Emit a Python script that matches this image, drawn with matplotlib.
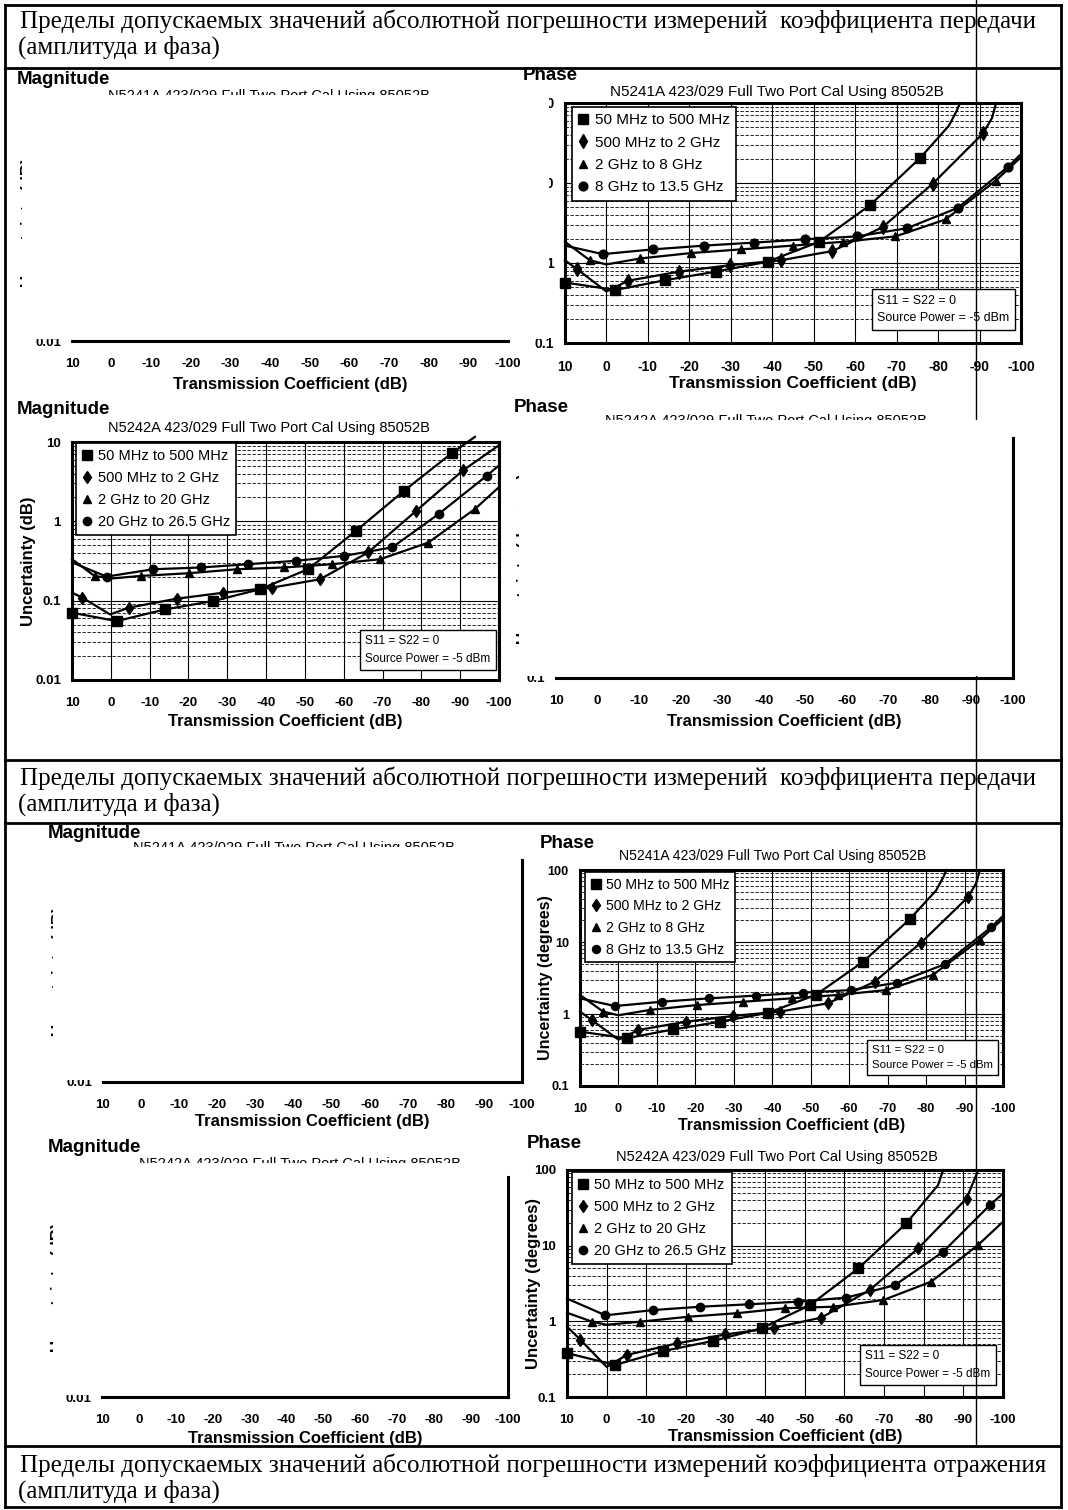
import matplotlib
matplotlib.use("Agg")
import matplotlib.pyplot as plt
import numpy as np
from matplotlib.lines import Line2D
from matplotlib.patches import Rectangle
from matplotlib.ticker import LogLocator, NullFormatter

W, H = 1068, 1510
SANS = ["Liberation Sans", "DejaVu Sans"]
SERIF = ["Liberation Serif", "DejaVu Serif"]
plt.rcParams["font.family"] = SANS

HEADER_TX = "Пределы допускаемых значений абсолютной погрешности измерений  коэффициента передачи"
HEADER_RX = "Пределы допускаемых значений абсолютной погрешности измерений коэффициента отражения"
HEADER_SUB = "(амплитуда и фаза)"

X_TICKS = [10, 0, -10, -20, -30, -40, -50, -60, -70, -80, -90, -100]
X_LABELS = ["10", "0", "-10", "-20", "-30", "-40", "-50", "-60", "-70", "-80", "-90", "-100"]
MAG_TICKS = [0.01, 0.1, 1, 10]
MAG_LABELS = ["0.01", "0.1", "1", "10"]
PH_TICKS = [0.1, 1, 10, 100]
PH_LABELS = ["0.1", "1", "10", "100"]

TITLE_41 = "N5241A 423/029 Full Two Port Cal Using 85052B"
TITLE_42 = "N5242A 423/029 Full Two Port Cal Using 85052B"
LEG_41 = ["50 MHz to 500 MHz", "500 MHz to 2 GHz", "2 GHz to 8 GHz", "8 GHz to 13.5 GHz"]
LEG_42 = ["50 MHz to 500 MHz", "500 MHz to 2 GHz", "2 GHz to 20 GHz", "20 GHz to 26.5 GHz"]
NOTE = "S11 = S22 = 0\nSource Power = -5 dBm"
MARKERS = ["s", "d", "^", "o"]
MARKER_SIZES = [7, 6.5, 6, 6]

# N5241A phase uncertainty (degrees) -- same chart is printed twice on the sheet
PH41_SQ_X = [10, -2.1, -14.2, -26.4, -38.9, -51.3, -63.6, -75.7, -82.6, -84.5, -85.3]
PH41_SQ_Y = [0.57, 0.46, 0.61, 0.78, 1.04, 1.84, 5.3, 20.6, 52, 80, 100]
PH41_SQ_MK = [0, 1, 2, 3, 4, 5, 6, 7]
PH41_DI_X = [10, 7, 0, -5.2, -17.5, -29.8, -42, -54.5, -66.6, -78.7, -90.9, -93, -94]
PH41_DI_Y = [1.08, 0.83, 0.44, 0.6, 0.78, 0.94, 1.08, 1.41, 2.8, 9.8, 42, 65, 100]
PH41_DI_MK = [1, 3, 4, 5, 6, 7, 8, 9, 10]
PH41_TR_X = [10, 4, 0, -8.2, -20.3, -32.4, -45, -57.1, -69.7, -81.8, -93.9, -100]
PH41_TR_Y = [1.84, 1.08, 0.96, 1.14, 1.33, 1.48, 1.65, 1.84, 2.15, 3.5, 10.7, 21]
PH41_TR_MK = [1, 3, 4, 5, 6, 7, 8, 9, 10]
PH41_CI_X = [10, 0.9, -11.2, -23.6, -35.7, -48, -60.4, -72.5, -84.8, -96.9, -100]
PH41_CI_Y = [1.65, 1.29, 1.48, 1.65, 1.8, 1.98, 2.15, 2.72, 4.9, 16, 23]
PH41_CI_MK = [1, 2, 3, 4, 5, 6, 7, 8, 9]

# N5242A phase uncertainty (degrees)
PH42_SQ_X = [10, -2.2, -14.3, -26.8, -39.1, -51.3, -63.5, -75.6, -83.6, -84.9]
PH42_SQ_Y = [0.38, 0.265, 0.405, 0.55, 0.81, 1.64, 5.0, 19.7, 63, 100]
PH42_SQ_MK = [0, 1, 2, 3, 4, 5, 6, 7]
PH42_DI_X = [10, 6.6, 0, -5.1, -17.7, -29.9, -42.1, -54.2, -66.4, -78.6, -90.8, -93.7]
PH42_DI_Y = [0.85, 0.57, 0.25, 0.36, 0.51, 0.67, 0.82, 1.12, 2.6, 9.2, 42, 98]
PH42_DI_MK = [1, 3, 4, 5, 6, 7, 8, 9, 10]
PH42_TR_X = [10, 3.7, 0, -8.5, -20.6, -32.8, -45, -57.2, -69.8, -81.9, -93.7, -100]
PH42_TR_Y = [1.3, 0.99, 0.9, 0.99, 1.15, 1.28, 1.49, 1.56, 1.91, 3.35, 10.2, 20.7]
PH42_TR_MK = [1, 3, 4, 5, 6, 7, 8, 9, 10]
PH42_CI_X = [10, 0.3, -11.8, -23.6, -36, -48.4, -60.5, -72.7, -84.9, -96.6, -100]
PH42_CI_Y = [2.0, 1.2, 1.41, 1.56, 1.68, 1.82, 2.06, 3.0, 8.3, 34, 49]
PH42_CI_MK = [1, 2, 3, 4, 5, 6, 7, 8, 9]

# N5242A magnitude uncertainty (dB)
MAG42_SQ_X = [10, -1.5, -14, -26.4, -38.4, -50.8, -63.2, -75.6, -88, -93.8]
MAG42_SQ_Y = [0.0705, 0.0553, 0.0776, 0.099, 0.139, 0.249, 0.762, 2.44, 7.33, 11.6]
MAG42_SQ_MK = [0, 1, 2, 3, 4, 5, 6, 7, 8]
MAG42_DI_X = [10, 7.3, 0.2, -4.6, -17, -29, -41.5, -53.9, -66.3, -78.7, -90.7, -100]
MAG42_DI_Y = [0.126, 0.109, 0.067, 0.0815, 0.106, 0.126, 0.146, 0.186, 0.406, 1.36, 4.38, 9.1]
MAG42_DI_MK = [1, 3, 4, 5, 6, 7, 8, 9, 10]
MAG42_TR_X = [10, 4.2, 0, -7.7, -20.2, -32.6, -44.6, -57, -69.4, -81.8, -93.8, -100]
MAG42_TR_Y = [0.333, 0.205, 0.19, 0.205, 0.222, 0.249, 0.262, 0.288, 0.333, 0.54, 1.43, 2.7]
MAG42_TR_MK = [1, 3, 4, 5, 6, 7, 8, 9, 10]
MAG42_CI_X = [10, 1.1, -10.9, -23.3, -35.3, -47.7, -60.1, -72.5, -84.5, -96.9, -100]
MAG42_CI_Y = [0.304, 0.201, 0.249, 0.262, 0.288, 0.318, 0.367, 0.47, 1.24, 3.78, 5.07]
MAG42_CI_MK = [1, 2, 3, 4, 5, 6, 7, 8, 9]

SERIES_PH41 = [(PH41_SQ_X, PH41_SQ_Y, PH41_SQ_MK), (PH41_DI_X, PH41_DI_Y, PH41_DI_MK),
               (PH41_TR_X, PH41_TR_Y, PH41_TR_MK), (PH41_CI_X, PH41_CI_Y, PH41_CI_MK)]
SERIES_PH42 = [(PH42_SQ_X, PH42_SQ_Y, PH42_SQ_MK), (PH42_DI_X, PH42_DI_Y, PH42_DI_MK),
               (PH42_TR_X, PH42_TR_Y, PH42_TR_MK), (PH42_CI_X, PH42_CI_Y, PH42_CI_MK)]
SERIES_MAG42 = [(MAG42_SQ_X, MAG42_SQ_Y, MAG42_SQ_MK), (MAG42_DI_X, MAG42_DI_Y, MAG42_DI_MK),
                (MAG42_TR_X, MAG42_TR_Y, MAG42_TR_MK), (MAG42_CI_X, MAG42_CI_Y, MAG42_CI_MK)]


def _rect(box):
    l, t, r, b = box
    return [l / W, 1 - b / H, (r - l) / W, (b - t) / H]


def _frac(box, px, py):
    l, t, r, b = box
    return (px - l) / (r - l), (b - py) / (b - t)


def _fline(fig, xs, ys, lw=2.0, z=2):
    fig.add_artist(Line2D([x / W for x in xs], [1 - y / H for y in ys], transform=fig.transFigure,
                          color="black", lw=lw, zorder=z))


def _base_axes(fig, box, kind, title, title_c, ylabel_right, xlabel_top, s=1.0):
    ax = fig.add_axes(_rect(box))
    ax.set_xlim(10, -100)
    ax.set_yscale("log")
    if kind == "mag":
        ax.set_ylim(0.01, 10)
        ax.set_yticks(MAG_TICKS, MAG_LABELS, fontsize=9.5 * s, fontweight="bold")
        ylabel = "Uncertainty (dB)"
    else:
        ax.set_ylim(0.1, 100)
        ax.set_yticks(PH_TICKS, PH_LABELS, fontsize=9.5 * s, fontweight="bold")
        ylabel = "Uncertainty (degrees)"
    ax.set_xticks(X_TICKS, X_LABELS, fontsize=9.5 * s, fontweight="bold")
    ax.yaxis.set_minor_locator(LogLocator(base=10, subs=np.arange(2, 10)))
    ax.yaxis.set_minor_formatter(NullFormatter())
    ax.tick_params(which="both", length=0)
    ax.tick_params(axis="x", pad=12.5)
    ax.tick_params(axis="y", pad=8)
    ax.set_xlabel("Transmission Coefficient (dB)", fontsize=12 * s, fontweight="bold")
    ax.xaxis.set_label_coords(0.5, _frac(box, 0, xlabel_top)[1])
    ax.set_ylabel(ylabel, fontsize=12 * s, fontweight="bold")
    ax.yaxis.set_label_coords(_frac(box, ylabel_right, 0)[0], 0.5)
    tx, ty = _frac(box, *title_c)
    ax.text(tx, ty, title, transform=ax.transAxes, ha="center", va="center", fontsize=10.5 * s)
    for sp in ax.spines.values():
        sp.set_linewidth(2.2)
    return ax


def full_panel(fig, box, kind, title, title_c, ylabel_right, xlabel_top,
               series, labels, legend_tl, note_br, s=1.0):
    ax = _base_axes(fig, box, kind, title, title_c, ylabel_right, xlabel_top, s)
    ax.set_axisbelow(True)
    ax.grid(True, which="major", color="black", lw=0.8)
    ax.grid(True, which="minor", axis="y", color="black", lw=0.6, ls=(0, (4, 2)))
    for (x, y, mk), m, ms in zip(series, MARKERS, MARKER_SIZES):
        ax.plot(x, y, color="black", lw=1.6, marker=m, markevery=mk, ms=ms * s,
                clip_on=False, zorder=3)
    handles = [Line2D([], [], color="black", ls="none", marker=m, ms=ms * s)
               for m, ms in zip(MARKERS, MARKER_SIZES)]
    lx, ly = _frac(box, *legend_tl)
    leg = ax.legend(handles, labels, loc="upper left", bbox_to_anchor=(lx, ly), borderaxespad=0,
                    fancybox=False, framealpha=1, edgecolor="black", fontsize=10.5 * s,
                    handlelength=0.7, handletextpad=0.4, labelspacing=0.55, borderpad=0.4)
    leg.get_frame().set_linewidth(1.2)
    fs = 8.5 * s
    pad_px = 0.45 * fs * 100 / 72
    nx, ny = _frac(box, note_br[0] - pad_px, note_br[1] - pad_px)
    ax.text(nx, ny, NOTE, transform=ax.transAxes, ha="right", va="bottom", fontsize=fs,
            linespacing=1.6, multialignment="left", zorder=6,
            bbox=dict(boxstyle="square,pad=0.45", fc="white", ec="black", lw=1.0))
    return ax


def erased_panel(fig, box, kind, title, title_c, ylabel_right, xlabel_top, right_spine, erase):
    ax = _base_axes(fig, box, kind, title, title_c, ylabel_right, xlabel_top)
    ax.spines["top"].set_visible(False)
    ax.spines["left"].set_visible(False)
    ax.spines["right"].set_visible(right_spine)
    x0, y0, x1, y1 = erase
    fig.add_artist(Rectangle((x0 / W, 1 - y1 / H), (x1 - x0) / W, (y1 - y0) / H,
                             transform=fig.transFigure, fc="white", ec="none", zorder=5))
    return ax


fig = plt.figure(figsize=(W / 100, H / 100), dpi=100)

# table frame of the scanned sheet
for y in (5, 68, 760, 823, 1446, 1507):
    _fline(fig, [5, 1061], [y, y])
_fline(fig, [5, 5], [5, 1507])
_fline(fig, [1061, 1061], [5, 1507])
_fline(fig, [976, 976], [0, 1446], lw=1.0, z=4)

for y1, line in ((21, HEADER_TX), (778, HEADER_TX), (1465, HEADER_RX)):
    fig.text(20 / W, 1 - y1 / H, line, family=SERIF, fontsize=18, ha="left", va="center")
    fig.text(18 / W, 1 - (y1 + 26) / H, HEADER_SUB, family=SERIF, fontsize=18, ha="left", va="center")

for (x, y), word in (((17, 80), "Magnitude"), ((523, 75), "Phase"), ((17, 410), "Magnitude"),
                     ((514, 408), "Phase"), ((48, 833), "Magnitude"), ((540, 843), "Phase"),
                     ((48, 1148), "Magnitude"), ((527, 1143), "Phase")):
    fig.text(x / W, 1 - y / H, word, fontsize=13.5, fontweight="bold", ha="left", va="center")

# row 1
erased_panel(fig, (72, 103, 508, 341), "mag", TITLE_41, (269, 96), 36, 377, False, (22, 95.5, 549, 339))
full_panel(fig, (565, 103, 1021, 343), "phase", TITLE_41, (777, 92), 528, 376,
           SERIES_PH41, LEG_41, (572, 107), (1015, 330), s=1.05)
# row 2
full_panel(fig, (72, 442, 499, 680), "mag", TITLE_42, (269, 428), 36, 714,
           SERIES_MAG42, LEG_42, (76, 443), (496, 670))
erased_panel(fig, (556, 438, 1013, 678), "phase", TITLE_42, (766, 421), 532, 714, True, (519, 420, 1010, 676))
# row 3
erased_panel(fig, (103, 860, 522, 1082), "mag", TITLE_41, (294, 848), 67, 1114, True, (53, 847, 519, 1080))
full_panel(fig, (580, 870, 1003, 1086), "phase", TITLE_41, (773, 856), 553, 1118,
           SERIES_PH41, LEG_41, (585, 872), (998, 1075), s=0.96)
# row 4
erased_panel(fig, (102, 1177, 508, 1397), "mag", TITLE_42, (300, 1164), 66, 1431, True, (53, 1163, 505, 1395))
full_panel(fig, (567, 1170, 1003, 1397), "phase", TITLE_42, (777, 1157), 541, 1429,
           SERIES_PH42, LEG_42, (572, 1172), (996, 1385))

fig.savefig("out.png", dpi=100)
